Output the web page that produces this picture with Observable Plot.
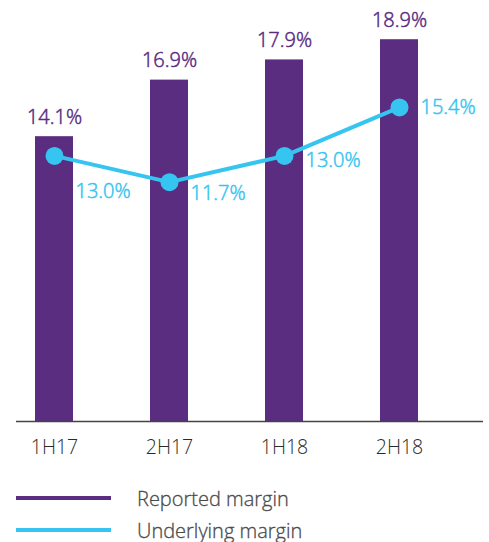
<!DOCTYPE html>
<html>
<head>
<meta charset="utf-8">
<script src="https://cdn.jsdelivr.net/npm/d3@7"></script>
<script src="https://cdn.jsdelivr.net/npm/@observablehq/plot@0.6"></script>
<style>
  body { margin: 0; background: #fff; font-family: "Open Sans", Lato, sans-serif; font-weight: 300; }
  #legend { position: relative; height: 72px; }
  .row { position: absolute; left: 16px; display: flex; align-items: center; height: 26px; }
  .swatch { width: 95px; height: 4px; margin-right: 26px; }
  .lab { font-size: 20px; color: #4a4a4a; font-weight: 300; -webkit-text-stroke: 0.3px #4a4a4a; }
  svg text { font-weight: 300; }
</style>
</head>
<body>
<div id="chart"></div>
<script>
const periods = ["1H17", "2H17", "1H18", "2H18"];
const reported = [14.1, 16.9, 17.9, 18.9];
const underlying = [13.0, 11.7, 13.0, 15.4];
const seriesNames = ["Reported margin", "Underlying margin"];

const purple = "#5a2d81";
const cyan = "#36c5f0";

const rows = periods.map((p, i) => ({period: p, reported: reported[i], underlying: underlying[i]}));
const fmt = v => v.toFixed(1) + "%";
const labelDy = [36, 11, 5, 0];

const plot = Plot.plot({
  width: 489,
  height: 470,
  marginLeft: 16,
  marginRight: 6,
  marginTop: 17,
  marginBottom: 49,
  style: {fontFamily: "'Open Sans', Lato, sans-serif", background: "#fff"},
  x: {domain: periods, paddingInner: 0.67, paddingOuter: 0.365, align: 0.226, label: null},
  y: {domain: [0, 20], axis: null},
  marks: [
    Plot.barY(rows, {x: "period", y: "reported", fill: purple}),
    Plot.ruleY([0], {stroke: "#444", strokeWidth: 1.5}),
    Plot.axisX({tickSize: 0, tickPadding: 19, fontSize: 19.5, fill: "#2a2a2a", stroke: "#2a2a2a", strokeWidth: 0.5, label: null}),
    Plot.text(rows, {x: "period", y: "reported", text: d => fmt(d.reported), fill: purple, stroke: purple, strokeWidth: 0.5, fontSize: 20, lineAnchor: "bottom", dy: -13}),
    Plot.line(rows, {x: "period", y: "underlying", stroke: cyan, strokeWidth: 4, dy: -3}),
    Plot.dot(rows, {x: "period", y: "underlying", fill: cyan, r: 9, dy: -3}),
    ...rows.map((r, i) => Plot.text([r], {x: "period", y: "underlying", text: d => fmt(d.underlying), fill: cyan, stroke: cyan, strokeWidth: 0.5, fontSize: 20, textAnchor: "start", dx: 21, dy: -3 + labelDy[i]}))
  ]
});
document.getElementById("chart").appendChild(plot);

const legend = document.createElement("div");
legend.id = "legend";
const colors = [purple, cyan];
seriesNames.forEach((name, i) => {
  const row = document.createElement("div");
  row.className = "row";
  row.style.top = (15 + i * 32) + "px";
  const sw = document.createElement("div");
  sw.className = "swatch";
  sw.style.background = colors[i];
  const lab = document.createElement("span");
  lab.className = "lab";
  lab.textContent = name;
  row.appendChild(sw);
  row.appendChild(lab);
  legend.appendChild(row);
});
document.getElementById("chart").appendChild(legend);
</script>
</body>
</html>
